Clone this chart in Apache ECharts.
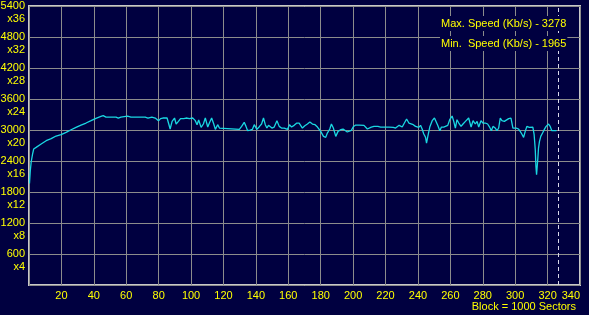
<!DOCTYPE html>
<html>
<head>
<meta charset="utf-8">
<script src="https://cdn.jsdelivr.net/npm/echarts@6/dist/echarts.min.js"></script>
<style>
html,body{margin:0;padding:0;background:#000040;}
#c{width:589px;height:315px;}
</style>
</head>
<body>
<div id="c"></div>
<script>
// Block position (x 1000 sectors)
var blocks = [
0.3,0.8,1.4,2.2,2.9,4.4,7.5,10.6,13.7,16.7,19.8,22.9,26,29,32.1,35.2,38.3,41.3,44.4,45.8,47.5,53.7,55.1,56.7,60.8,62.9,67.2,
71.7,73.4,75.8,77.9,79.9,81.2,82.6,85.2,87.1,88.3,89.8,90.8,92.2,93.5,95.5,96.9,99,101,102.5,103.7,104.7,106.2,107.6,108.8,110.3,111.3,112.7,114,115,116.4,117.5,118.5,129.8,131.2,132.8,133.9,
134.9,136.5,137.8,139,140.6,142.1,143.5,144.7,145.8,146.8,147.8,148.8,149.9,151.3,153,154.4,155.8,157.5,158.5,159.5,160.7,162,163.6,165.3,166.7,167.7,168.7,170.2,171.8,173.3,174.9,176.5,178,179,180,181.7,183.1,184.1,185.6,186.6,187.8,189.3,190.7,192.3,193.8,195,196.4,197.5,198.9,200.1,201.6,203.8,
206.7,207.7,208.8,209.8,211.2,212.9,215.3,217,219,222.1,223.1,224.8,226.2,227.2,228.4,229.3,230.3,231.3,233,234.4,235.4,237.1,238.5,239.5,240.5,241.6,242.6,243.6,244.7,245.3,246.1,247.3,248.8,250.2,251.2,252.2,253.5,254.5,255.9,257,258.4,259.6,261.1,262.1,263.1,264.1,265.2,266.6,267.8,269.3,271.3,
272.8,274,275.4,276.5,277.5,278.9,280.1,281.6,283,284.2,285.3,286.3,287.7,288.8,289.8,290.8,291.8,293.3,294.5,296,297.4,298.6,299.4,300.7,302.1,303.1,304.1,305.2,306.2,307.2,308.7,309.9,310.9,311.7,312.4,312.8,313.2,313.6,314,314.4,315,315.8,316.9,317.9,319.1,320.6,321.6,322.6,325.5
];
// Speed (Kb/s)
var speeds = [
1965,2212,2392,2535,2632,2663,2729,2793,2832,2883,2909,2954,3005,3050,3096,3135,3180,3225,3263,3278,3250,3250,3231,3250,3270,3250,3251,
3251,3232,3251,3232,3180,3220,3232,3232,3019,3167,3232,3116,3167,3220,3220,3232,3220,3232,3186,3103,3193,3051,3116,3232,3058,3135,3232,3116,3012,3103,3038,3012,3012,3070,3148,3070,
2986,2999,3012,3103,3012,3064,3116,3232,3103,3038,3090,3128,3038,3057,3180,3070,3038,3038,3012,3012,3103,3057,3090,3135,3135,3103,3038,3083,3116,3154,3116,3103,3057,3038,2973,2877,2857,2941,3019,3116,3038,2877,2973,3006,3019,2993,2961,2928,2993,3064,3096,3096,
3090,3070,3019,3032,3057,3070,3070,3057,3057,3057,3070,3051,3038,3019,3090,3116,3057,3116,3212,3135,3103,3103,3070,3090,3051,3090,3019,2922,2857,2748,2877,3057,3180,3232,3199,3090,2986,3057,3057,3070,3090,3199,3270,3167,3038,3199,3135,3070,3116,3167,3232,
3057,3180,3116,3167,3057,3180,3135,3135,3116,3057,2986,3070,3038,2986,3038,3232,3180,3167,3199,3220,3232,3038,3019,3038,3019,2973,2922,2857,2973,3070,3051,3057,3057,2909,2619,2296,2135,2296,2457,2651,2780,2877,2941,3006,3070,3116,3070,2986,2986
];
var xTicks = [20,40,60,80,100,120,140,160,180,200,220,240,260,280,300,320,340];
var yTicks = [600,1200,1800,2400,3000,3600,4200,4800,5400];
var yMultipliers = ['x4','x8','x12','x16','x20','x24','x28','x32','x36'];
var markerBlock = 326.5;
var maxText = 'Max. Speed (Kb/s) - 3278';
var minText = 'Min.  Speed (Kb/s) - 1965';
var unitText = 'Block = 1000 Sectors';

var FONT = "'Liberation Sans',Arial,sans-serif";
var FS = 11;
var BG = '#000040';
var YEL = '#ffff00';
var data = blocks.map(function(b,i){return [b, speeds[i]];});

function yAxisBase(){
  return {type:'value', min:0, max:5400, interval:600, gridIndex:0, position:'left',
    axisLine:{show:false}, axisTick:{show:false}};
}
var yNum = yAxisBase();
yNum.splitLine = {show:true, lineStyle:{color:'#8c8c8c', width:1}};
yNum.axisLabel = {color:YEL, fontFamily:FONT, fontSize:FS, lineHeight:13, margin:4, align:'right', showMaxLabel:true, showMinLabel:false,
  formatter:function(v){return yTicks.indexOf(v)>=0 ? String(v) : '';}};
var yMul = yAxisBase();
yMul.splitLine = {show:false};
yMul.axisLabel = {color:YEL, fontFamily:FONT, fontSize:FS, lineHeight:13, margin:4, align:'right', verticalAlign:'top', padding:[6,0,0,0], showMaxLabel:true, showMinLabel:false,
  formatter:function(v){var i=yTicks.indexOf(v); return i>=0 ? yMultipliers[i] : '';}};

var chart = echarts.init(document.getElementById('c'));
chart.setOption({
  animation:false,
  backgroundColor: BG,
  grid:{left:29, top:6, width:551, height:279, show:true, borderColor:'#c8c8c8', borderWidth:2, backgroundColor:BG, containLabel:false, outerBoundsMode:'none'},
  xAxis:{
    type:'value', min:0, max:340, interval:20,
    axisLine:{show:false}, axisTick:{show:false},
    splitLine:{show:true, lineStyle:{color:'#8c8c8c', width:1}},
    axisLabel:{color:YEL, fontFamily:FONT, fontSize:FS, margin:5, alignMaxLabel:'right', showMaxLabel:true,
      formatter:function(v){return xTicks.indexOf(v)>=0 ? String(v) : '';}}
  },
  yAxis:[yNum, yMul],
  series:[{
    type:'line', data:data, yAxisIndex:0, showSymbol:false, symbol:'none',
    lineStyle:{color:'#1ad8e2', width:1.3},
    markLine:{silent:true, symbol:['none','none'], label:{show:false},
      lineStyle:{color:'#d8d8e8', type:[4,3], width:1},
      data:[{xAxis:markerBlock}]}
  }],
  graphic:[
    {type:'text', left:440, top:16, z:100, style:{text:maxText, fill:YEL, font:FS+'px '+FONT, backgroundColor:BG, padding:[2,1,2,1]}},
    {type:'text', left:440, top:36, z:100, style:{text:minText, fill:YEL, font:FS+'px '+FONT, backgroundColor:BG, padding:[2,1,2,1]}},
    {type:'text', right:13, top:301, z:100, style:{text:unitText, fill:YEL, font:FS+'px '+FONT}}
  ]
});
</script>
</body>
</html>
